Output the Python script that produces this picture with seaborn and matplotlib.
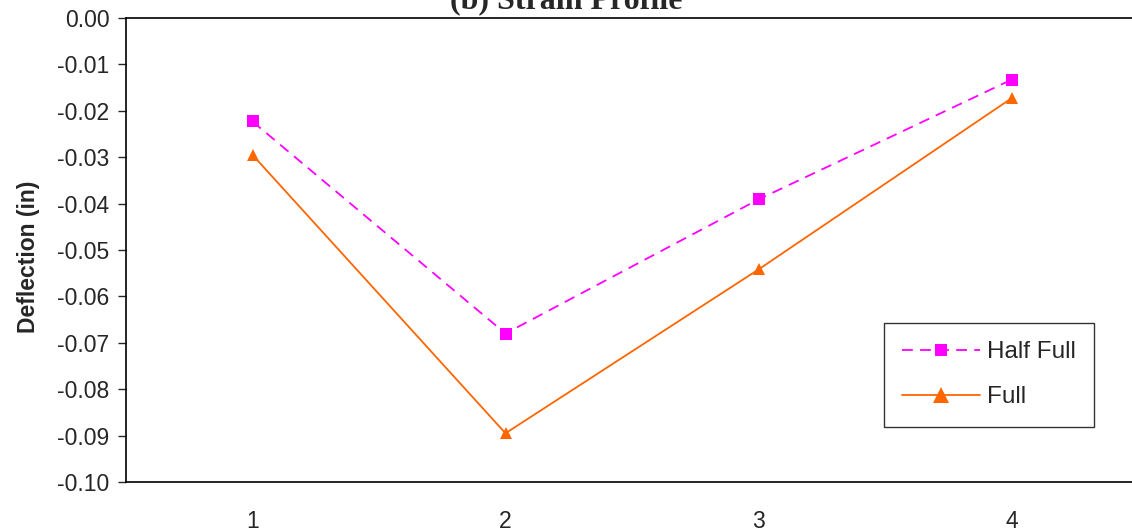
import matplotlib
matplotlib.use("Agg")
import matplotlib.pyplot as plt
import seaborn as sns
import pandas as pd
from matplotlib.lines import Line2D

# values
positions = [1, 2, 3, 4]
half_full = [-0.0223, -0.0680, -0.0391, -0.0133]
full = [-0.0295, -0.0895, -0.0542, -0.0173]
series_names = ["Half Full", "Full"]
y_ticks = [0.00, -0.01, -0.02, -0.03, -0.04, -0.05, -0.06, -0.07, -0.08, -0.09, -0.10]

df = pd.DataFrame({
    "pos": positions * 2,
    "defl": half_full + full,
    "series": [series_names[0]] * 4 + [series_names[1]] * 4,
})

sns.set_style("white")
plt.rcParams["font.family"] = ["Liberation Sans", "DejaVu Sans"]

fig = plt.figure(figsize=(11.32, 5.32), dpi=100)
ax = fig.add_axes((126 / 1132, 1 - 482 / 532, 1012 / 1132, 464 / 532))

palette = {"Half Full": "#FF00FF", "Full": "#FF6600"}
markers = {"Half Full": "s", "Full": "^"}
dashes = {"Half Full": (6, 4), "Full": ""}

sns.lineplot(data=df, x="pos", y="defl", hue="series", style="series",
             palette=palette, markers=markers, dashes=dashes,
             markersize=9, markeredgewidth=0, linewidth=1.3, ax=ax, legend=False)

ax.set_xlim(0.5, 4.5)
ax.set_ylim(-0.10, 0.0)
ax.set_xticks(positions)
ax.set_xticklabels([str(p) for p in positions])
ax.set_yticks(y_ticks)
ax.set_yticklabels([f"{t:.2f}" for t in y_ticks])
ax.tick_params(axis="x", length=0, pad=20, labelsize=16.5)
ax.tick_params(axis="y", left=True, length=6, width=1, direction="out", pad=6, labelsize=16.5)
ax.set_xlabel("")
ax.set_ylabel("Deflection (in)", fontsize=16.5, fontweight="bold")
ax.yaxis.set_label_coords(-0.085, 0.485)

for side in ["left", "bottom", "top"]:
    ax.spines[side].set_color("black")
    ax.spines[side].set_linewidth(1.2)
ax.spines["right"].set_visible(False)

handles = [
    Line2D([], [], color="#FF00FF", linestyle=(0, (6, 4)), linewidth=1.3,
           marker="s", markersize=9, markeredgewidth=0),
    Line2D([], [], color="#FF6600", linestyle="-", linewidth=1.3,
           marker="^", markersize=11, markeredgewidth=0),
]
leg = fig.legend(handles, series_names, loc="upper left",
                 bbox_to_anchor=(884 / 1132, 1 - 323 / 532),
                 fontsize=17.5, frameon=True, fancybox=False, borderpad=0.75,
                 handlelength=3.2, handletextpad=0.3, labelspacing=0.95,
                 borderaxespad=0)
leg.get_frame().set_edgecolor("black")
leg.get_frame().set_linewidth(1.0)

fig.text(0.5, 1 - 8 / 532, "(b) Strain Profile", ha="center", va="baseline",
         fontsize=23, fontweight="bold", family=["Liberation Serif", "DejaVu Serif"])

fig.savefig("out.png", dpi=100)
